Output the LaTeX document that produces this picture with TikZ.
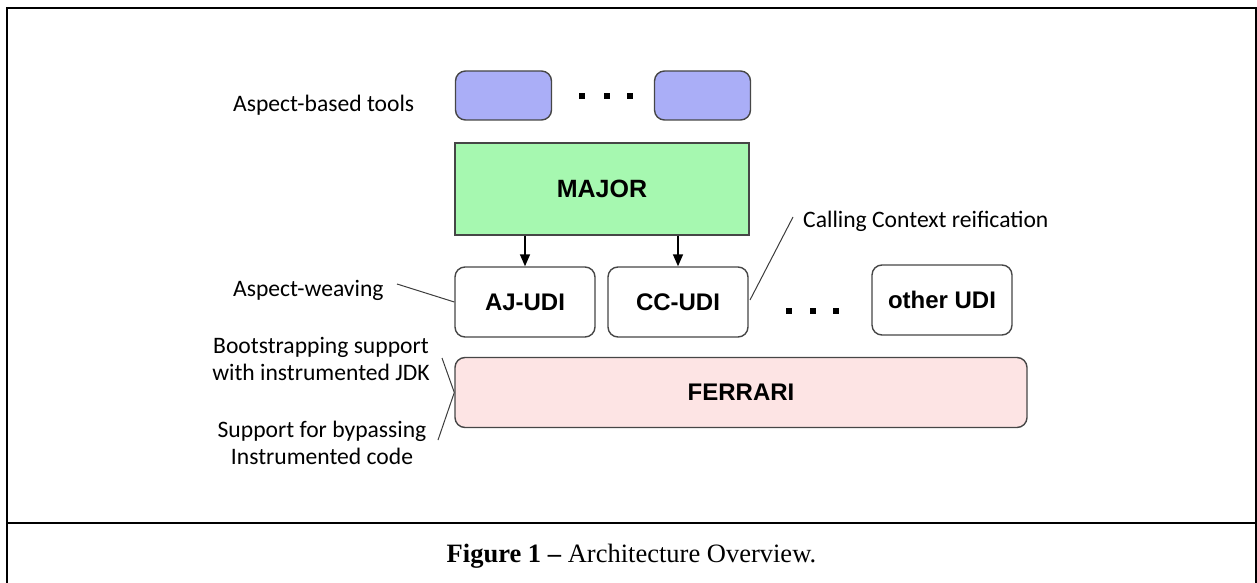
\documentclass[tikz,border=0pt]{standalone}
\usepackage{fontspec}
\setmainfont{Liberation Serif}
\newfontfamily\labelfont{Carlito}
\newfontfamily\boxfont{Liberation Sans}
\usetikzlibrary{arrows.meta}

\definecolor{toolblue}{RGB}{170,174,247}
\definecolor{majorgreen}{RGB}{166,248,176}
\definecolor{ferraripink}{RGB}{253,228,228}
\definecolor{edgegray}{RGB}{70,70,70}
\definecolor{notegray}{RGB}{60,60,60}

\begin{document}
\begin{tikzpicture}[x=1pt,y=-1pt,
  frame/.style={line width=2.2pt, draw=black},
  box/.style={draw=edgegray, line width=1.4pt, rounded corners=10pt, inner sep=0pt,
    font=\boxfont\bfseries\fontsize{24}{28}\selectfont, text=black},
  toolbox/.style={box, fill=toolblue, minimum width=96pt, minimum height=49pt},
  udibox/.style={box, fill=white, minimum width=140pt, minimum height=70pt},
  majorbox/.style={box, rounded corners=0pt, fill=majorgreen, minimum width=294pt, minimum height=92pt,
    font=\boxfont\bfseries\fontsize{25}{29}\selectfont},
  ferraribox/.style={box, fill=ferraripink, minimum width=572pt, minimum height=70pt},
  dotmark/.style={fill=black, inner sep=0pt, minimum size=6pt},
  note/.style={font=\labelfont\fontsize{23.6}{27}\selectfont, inner sep=0pt, text=black},
  noteline/.style={draw=notegray, line width=1pt},
  arr/.style={line width=1.5pt, -{Triangle[length=12pt,width=10pt]}},
  caption/.style={font=\fontsize{26.5}{30}\selectfont, inner sep=0pt}
]
\useasboundingbox (0,0) rectangle (1257,583);

% outer frame and caption separator
\draw[frame] (7,583) -- (7,8) -- (1256,8) -- (1256,583);
\draw[frame] (7,523) -- (1256,523);

% aspect-based tools
\node[toolbox] (tool1) at (503.5,95.5) {};
\node[toolbox] (tool2) at (702.5,95.5) {};
\node[dotmark] (td1) at (582,96) {};
\node[dotmark] (td2) at (607,96) {};
\node[dotmark] (td3) at (630,96) {};

% weaver
\node[majorbox] (major) at (602,189) {MAJOR};

% user-defined instrumentations
\node[udibox] (ajudi) at (525,302) {AJ-UDI};
\node[udibox] (ccudi) at (678,302) {CC-UDI};
\node[udibox] (other) at (942,300) {other UDI};
\node[dotmark] (ud1) at (789,311) {};
\node[dotmark] (ud2) at (813,311) {};
\node[dotmark] (ud3) at (836,311) {};

% framework
\node[ferraribox] (ferrari) at (741,392.5) {FERRARI};

% arrows from MAJOR
\draw[arr] (ajudi.north |- major.south) -- (ajudi.north);
\draw[arr] (ccudi.north |- major.south) -- (ccudi.north);

% annotations
\node[note, anchor=base west] (ltools) at (233,111) {Aspect-based tools};
\node[note, anchor=base west] (lweave) at (233,296) {Aspect-weaving};
\node[note, anchor=base west] (lcc) at (803,227) {Calling Context reification};
\node[note, anchor=base, align=center] (lboot) at (321,380) {Bootstrapping support\\with instrumented JDK};
\node[note, anchor=base, align=center] (lbypass) at (322,464) {Support for bypassing\\Instrumented code};

\coordinate (cweave) at (397,284);
\coordinate (ccc) at (793,217);
\coordinate (cboot) at (442,358);
\coordinate (cbypass) at (438,440);
\coordinate (ccend) at (750,300);

\draw[noteline] (cweave) -- (ajudi.west);
\draw[noteline] (ccend) -- (ccc);
\draw[noteline] (cboot) -- (ferrari.west);
\draw[noteline] (cbypass) -- (ferrari.west);

% caption
\node[caption] (cap) at (631.5,556) {\textbf{Figure 1 –} Architecture Overview.};
\end{tikzpicture}
\end{document}
